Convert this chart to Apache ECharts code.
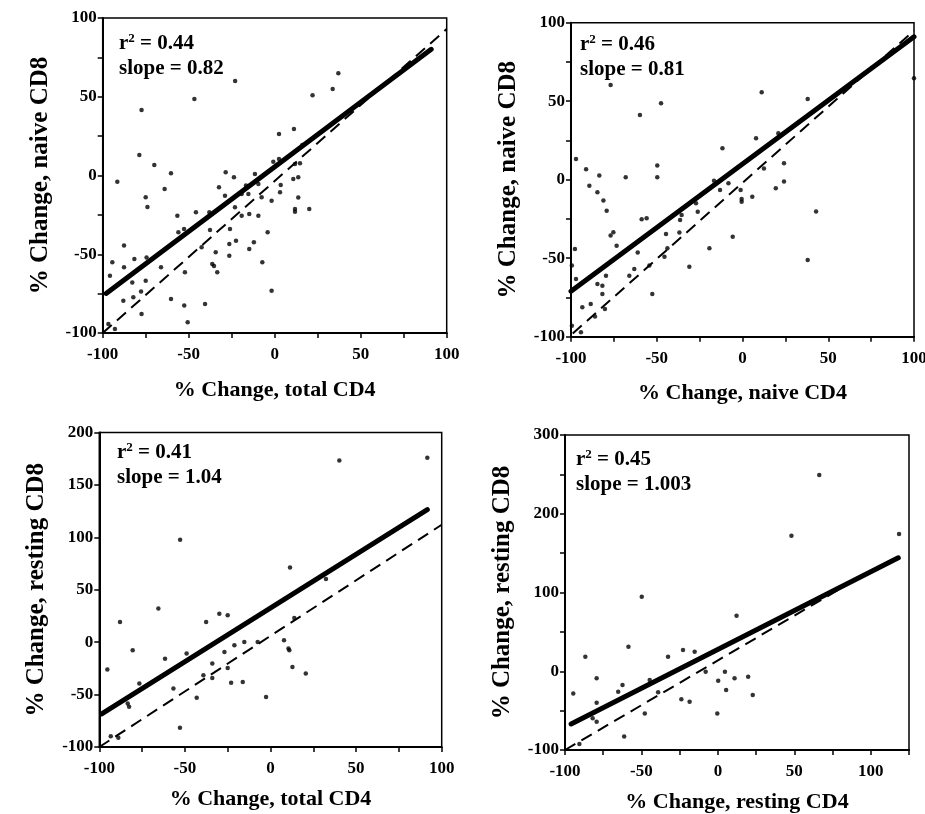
<!DOCTYPE html>
<html>
<head>
<meta charset="utf-8">
<script src="https://cdn.jsdelivr.net/npm/echarts@6/dist/echarts.min.js"></script>
<style>
  html, body { margin: 0; background: #fff; }
  #chart { width: 925px; height: 814px; }
</style>
</head>
<body>
<div id="chart"></div>
<script>
  // % change pairs [x, y]
  var totalVsNaive = [[37,65],[33.7,55],[22,51],[-23,60],[-46.7,48.6],[-77.4,41.6],[-78.7,13],[-70,6.7],[-60.3,1.4],[-91.5,-3.9],[-75,-13.8],[-74,-20],[-64,-8.5],[-56.6,-25.5],[-56,-36],[-52.7,-34],[-45.8,-23.4],[-38,-23.4],[-37.6,-34.6],[-42.5,-45.6],[-34.3,-48.8],[-36.3,-56.2],[-35.3,-57.5],[-33.4,-61.5],[-32.4,-7.5],[-28.9,-12.8],[-28.5,2],[-23.7,-1.1],[-23.1,-20.2],[-26,-34],[-26.4,-43.5],[-26.4,-50.9],[-22.5,-41.4],[-19.2,-25.5],[-14.8,-24.4],[-9.5,-25.5],[-14.8,-46.6],[-12.1,-42.4],[-7.2,-55.1],[-4.1,-36.1],[-1.8,-16],[-1.8,-73.1],[-19.2,-11.7],[-16.7,-6.4],[-15.3,-11.7],[-11.5,1],[-9.5,-5.4],[-7.6,-13.8],[-0.8,8.8],[2.5,10.5],[2.5,26.4],[3.5,-6],[3.1,-10.7],[11.2,29.5],[11.8,7.3],[14.7,7.7],[10.8,-2.2],[13.7,-1.1],[13.7,-14],[11.8,-21.3],[11.8,-23],[20.1,-21.3],[16.1,19.4],[-94.4,-55.1],[-95.8,-63.6],[-87.6,-44.5],[-87.6,-58.3],[-81.6,-53],[-74.5,-52],[-88,-79.5],[-82.8,-68],[-82.2,-77.3],[-77.7,-73.7],[-75,-66.8],[-77.4,-87.9],[-66.1,-58.3],[-60.3,-78.4],[-52.2,-61.5],[-52.6,-82.6],[-50.6,-93.2],[-40.5,-81.6],[-96.7,-94.3],[-92.9,-97.4]];
  var naiveVsNaive = [[-76.9,60.3],[11.2,55.7],[38,51.4],[-47.5,48.7],[-59.8,41.2],[-97.1,13.2],[-91.2,6.6],[-83.5,2.6],[-89.3,-3.8],[-84.6,-8],[-81.1,-13.3],[-79.2,-19.7],[-75.3,-33.5],[-76.9,-35.6],[-73.4,-42],[-68.1,1.5],[-49.7,9],[-49.7,1.5],[-58.8,-25.2],[-55.9,-24.6],[-61.1,-46.3],[-63.1,-56.9],[-66,-61.1],[-54.3,-54.7],[-52.6,-72.8],[-79.6,-61.1],[-81.7,-67.5],[-81.7,-72.8],[-84.6,-66.4],[-88.5,-79.2],[-93.4,-81.3],[-86,-87.2],[-80.2,-82.3],[-97.1,-63.2],[-97.7,-44.1],[-99.5,-54.7],[-99.5,-93],[-94.2,-97.2],[-44.6,-34.6],[-45.5,-49],[-43.8,-43.7],[-36.4,-25.7],[-35.5,-22.5],[-36.8,-33.7],[-31,-55.4],[-27.1,-15],[-26.1,-20.4],[-19.3,-43.7],[-16.6,-0.6],[-13.1,-6.5],[-8.2,-2.3],[-11.7,20],[-5.7,-36.3],[-1.1,-6.5],[-0.5,-12.3],[-0.5,-14],[5.7,-10.8],[7.9,26.4],[12.5,7.2],[19.4,-5.5],[20.9,29.6],[24.2,10.4],[24.2,-1.2],[38,-51.1],[42.9,-20.3],[100,64.6]];
  var totalVsResting = [[40.2,173.2],[91.6,176],[-52.8,97.7],[11.4,71.3],[32.4,60.2],[-65.5,32],[-87.9,19.3],[-37.6,19.3],[-29.9,27.2],[-25,25.6],[13.9,23.1],[-80.5,-7.7],[-61.6,-15.7],[-49,-10.9],[-95.3,-26.1],[-76.6,-39.5],[-56.7,-44.2],[-43.1,-53.1],[-83.4,-58.5],[-82.6,-61.7],[-39.2,-31.5],[-34,-20.4],[-34,-34.1],[-26.9,-9.3],[-21.1,-3],[-15.3,0.2],[-7.5,0.2],[-25,-24.6],[-23,-38.8],[-16.2,-37.9],[-2.6,-52.2],[7.9,1.8],[10.5,-6.1],[11,-7.7],[12.8,-23.6],[20.6,-30],[-88.9,-91.2],[-93.3,-89.7],[-52.9,-81.7]];
  var restingVsResting = [[66.3,249.2],[48.1,172.1],[118.5,174.2],[-49.8,94.7],[12.2,70.5],[-58.5,31.2],[-86.7,18.5],[-32.6,18.5],[-22.8,27],[-15.2,24.8],[-79.3,-9],[-94.6,-28.1],[-62.4,-17.5],[-65.2,-26],[-44.6,-11.2],[-39.1,-26.8],[-79.3,-40],[-47.8,-53.5],[-23.9,-35.7],[-18.5,-38.7],[-0.4,-53.5],[0.2,-12],[4.6,-0.6],[10.9,-9],[5.4,-23.9],[19.8,-7],[22.8,-30.2],[-8,-0.6],[-61.3,-83],[-79.3,-64],[-81.9,-59.8],[-90.6,-92.4]];

  // fitted lines (thick) and reference lines (dashed), as end points
  var fitLines = [
    [[-98, -74.9], [91, 80.1]],
    [[-100, -71], [100, 91]],
    [[-98.6, -68.5], [91.6, 126.5]],
    [[-96, -67], [118, 144]]
  ];
  var refLines = [
    [[-100, -100], [100, 93]],
    [[-99, -98], [100, 95]],
    [[-100, -100], [100, 112]],
    [[-100, -100], [89, 115]]
  ];

  var r2Values = ['0.44', '0.46', '0.41', '0.45'];
  var slopeValues = ['0.82', '0.81', '1.04', '1.003'];
  var xNames = ['% Change, total CD4', '% Change, naive CD4', '% Change, total CD4', '% Change, resting CD4'];
  var yNames = ['% Change, naive CD8', '% Change, naive CD8', '% Change, resting CD8', '% Change, resting CD8'];
  var xRanges = [[-100, 100, 25, 50], [-100, 100, 25, 50], [-100, 100, 25, 50], [-100, 125, 25, 50]];
  var yRanges = [[-100, 100, 25, 50], [-100, 100, 25, 50], [-100, 200, 50, 50], [-100, 300, 50, 100]];

  var font = 'Liberation Serif';
  var grids = [
    { left: 102.7, top: 18, width: 344, height: 315 },
    { left: 571, top: 22.7, width: 343, height: 314 },
    { left: 99.3, top: 432.5, width: 342.4, height: 314.5 },
    { left: 565, top: 435, width: 344, height: 315 }
  ];
  var xNameGaps = [46, 46, 41, 41];
  var statPos = [[119, 31], [580, 32], [117, 440], [576, 447]];
  var panels = [totalVsNaive, naiveVsNaive, totalVsResting, restingVsResting];

  function makeAxis(i, r, name, isX) {
    return {
      type: 'value',
      gridIndex: i,
      min: r[0],
      max: r[1],
      interval: r[2],
      name: name,
      nameLocation: 'middle',
      nameGap: isX ? xNameGaps[i] : 50,
      nameTextStyle: { fontFamily: font, fontWeight: 'bold', fontSize: isX ? 22 : 25, color: '#000' },
      axisLine: { show: true, onZero: false, lineStyle: { color: '#000', width: 2 } },
      axisTick: { show: true, inside: false, length: 5, lineStyle: { color: '#000', width: 1.5 } },
      axisLabel: {
        fontFamily: font, fontWeight: 'bold', fontSize: 17, color: '#000', margin: isX ? 13 : 6,
        formatter: function (v) { return v % r[3] === 0 ? String(v) : ''; }
      },
      splitLine: { show: false }
    };
  }

  var option = {
    backgroundColor: '#fff',
    animation: false,
    grid: [],
    xAxis: [],
    yAxis: [],
    title: [],
    series: []
  };

  for (var i = 0; i < 4; i++) {
    var g = grids[i];
    option.grid.push({
      left: g.left, top: g.top, width: g.width, height: g.height,
      containLabel: false, outerBoundsMode: 'none',
      show: true, borderColor: '#000', borderWidth: 1.5, backgroundColor: 'transparent'
    });
    option.xAxis.push(makeAxis(i, xRanges[i], xNames[i], true));
    option.yAxis.push(makeAxis(i, yRanges[i], yNames[i], false));
    option.title.push({
      left: statPos[i][0], top: statPos[i][1], padding: 0,
      text: '{r|r}{s|2}{r| = ' + r2Values[i] + '}\n{r|slope = ' + slopeValues[i] + '}',
      textStyle: {
        rich: {
          r: { fontFamily: font, fontWeight: 'bold', fontSize: 21, color: '#000', lineHeight: 25 },
          s: { fontFamily: font, fontWeight: 'bold', fontSize: 13, color: '#000', lineHeight: 25, padding: [0, 0, 9, 0] }
        }
      }
    });
    option.series.push({
      type: 'line', xAxisIndex: i, yAxisIndex: i, data: refLines[i],
      symbol: 'none', lineStyle: { color: '#000', width: 2, type: [12, 7] }, z: 2
    });
    option.series.push({
      type: 'line', xAxisIndex: i, yAxisIndex: i, data: fitLines[i],
      symbol: 'none', lineStyle: { color: '#000', width: 5, cap: 'round' }, z: 3
    });
    option.series.push({
      type: 'scatter', xAxisIndex: i, yAxisIndex: i, data: panels[i],
      symbol: 'circle', symbolSize: 4.5, itemStyle: { color: '#000' }, z: 4
    });
  }

  var chart = echarts.init(document.getElementById('chart'), null, { renderer: 'canvas' });
  chart.setOption(option);
</script>
</body>
</html>
